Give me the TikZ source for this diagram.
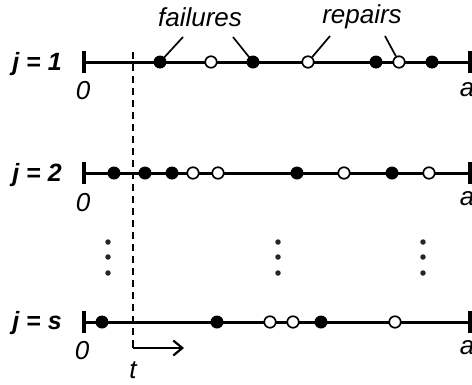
\documentclass[tikz,border=0pt]{standalone}
\usepackage{fontspec}
\setmainfont{Liberation Sans}
\usetikzlibrary{arrows.meta}
\begin{document}
\begin{tikzpicture}[x=1pt,y=-1pt,
  axis/.style={line width=3pt},
  endtick/.style={line width=4pt},
  fail/.style={circle,fill=black,inner sep=0pt,minimum size=13pt},
  rep/.style={circle,draw=black,fill=white,line width=1.7pt,inner sep=0pt,minimum size=11.5pt},
  lab/.style={font=\fontsize{26}{26}\selectfont\itshape,inner sep=0pt},
  jlab/.style={font=\fontsize{25}{25}\selectfont\bfseries\itshape,inner sep=0pt},
  leader/.style={line width=1.7pt},
  vdot/.style={circle,fill=black!85,inner sep=0pt,minimum size=5.5pt},
  tline/.style={line width=1.5pt,dash pattern=on 7pt off 5pt}]
\useasboundingbox (0,0) rectangle (472,384);
% dashed time line
\coordinate (tTop) at (133,52);
\coordinate (tBot) at (133,348);
\draw[tline] (tTop) -- (tBot);
\coordinate (tArr) at (184,348);
\draw[line width=2.2pt,-{Straight Barb[length=9pt,width=15pt,line width=2.2pt]}] (tBot) -- (tArr);
\draw[line width=2.2pt] (133,340) -- (tBot);
\node[lab] (tl) at (133,370) {t};
% row j=1
\node[jlab] (j1) at (37,64) {j = 1};
\coordinate (L1) at (84,62); \coordinate (R1) at (470,62);
\draw[axis] (L1) -- (R1);
\draw[endtick] (84,51) -- (84,73);
\draw[endtick] (470,51) -- (470,73);
\node[lab] (z1) at (83,91) {0};
\node[lab] (a1) at (467,90) {a};
\node[fail] (f11) at (160,62) {};
\node[rep]  (r11) at (211,62) {};
\node[fail] (f12) at (253,62) {};
\node[rep]  (r12) at (308,62) {};
\node[fail] (f13) at (376,62) {};
\node[rep]  (r13) at (399,62) {};
\node[fail] (f14) at (432,62) {};
\node[lab] (failures) at (200,17) {failures};
\node[lab] (repairs) at (362,17) {repairs};
\coordinate (lf1) at (183,37); \coordinate (lf2) at (233,37);
\coordinate (lr1) at (330,36); \coordinate (lr2) at (385,36);
\draw[leader] (lf1) -- (f11.center);
\draw[leader] (lf2) -- (f12.center);
\draw[leader] (lr1) -- (r12);
\draw[leader] (lr2) -- (r13);
% row j=2
\node[jlab] (j2) at (37,175) {j = 2};
\coordinate (L2) at (84,173); \coordinate (R2) at (470,173);
\draw[axis] (L2) -- (R2);
\draw[endtick] (84,162) -- (84,184);
\draw[endtick] (470,162) -- (470,184);
\node[lab] (z2) at (83,203) {0};
\node[lab] (a2) at (467,199) {a};
\node[fail] (f21) at (114,173) {};
\node[fail] (f22) at (145,173) {};
\node[fail] (f23) at (172,173) {};
\node[rep]  (r21) at (193,173) {};
\node[rep]  (r22) at (218,173) {};
\node[fail] (f24) at (297,173) {};
\node[rep]  (r23) at (344,173) {};
\node[fail] (f25) at (392,173) {};
\node[rep]  (r24) at (429,173) {};
% vertical dots
\foreach \x in {108,278,423}{
  \node[vdot] at (\x,242) {};
  \node[vdot] at (\x,257) {};
  \node[vdot] at (\x,273) {};
}
% row j=s
\node[jlab] (js) at (37,323) {j = s};
\coordinate (Ls) at (84,322); \coordinate (Rs) at (470,322);
\draw[axis] (Ls) -- (Rs);
\draw[endtick] (84,311) -- (84,333);
\draw[endtick] (470,311) -- (470,333);
\node[lab] (zs) at (82,351) {0};
\node[lab] (as) at (467,348) {a};
\node[fail] (fs1) at (102,322) {};
\node[fail] (fs2) at (217,322) {};
\node[rep]  (rs1) at (270,322) {};
\node[rep]  (rs2) at (293,322) {};
\node[fail] (fs3) at (321,322) {};
\node[rep]  (rs3) at (395,322) {};
\end{tikzpicture}
\end{document}
